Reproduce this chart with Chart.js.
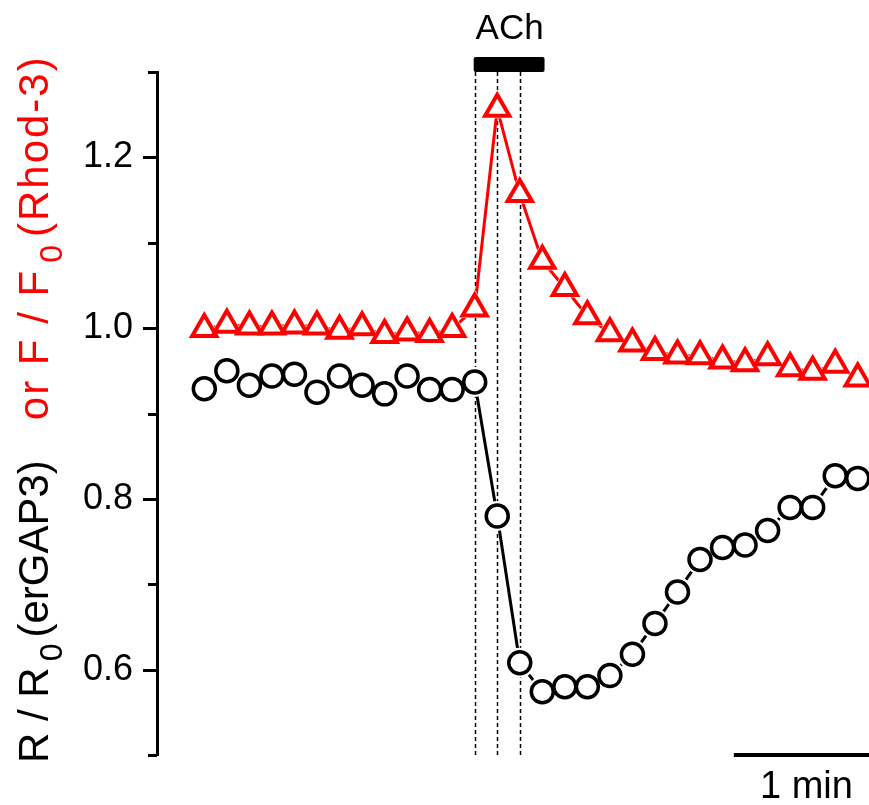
<!DOCTYPE html>
<html>
<head>
<meta charset="utf-8">
<script src="https://cdn.jsdelivr.net/npm/chart.js@4.4.1/dist/chart.umd.min.js"></script>
<style>
  html, body { margin: 0; padding: 0; background: #fff; }
</style>
</head>
<body>
<canvas id="c" width="869" height="805"></canvas>
<script>
// tiempo (s), un punto cada 10 s
const times  = [0, 10, 20, 30, 40, 50, 60, 70, 80, 90, 100, 110, 120, 130, 140,
                150, 160, 170, 180, 190, 200, 210, 220, 230, 240, 250, 260, 270, 280, 290];
// R/R0 (erGAP3)
const erGAP3 = [0.929, 0.950, 0.933, 0.944, 0.946, 0.925, 0.944, 0.933, 0.923, 0.944,
                0.928, 0.928, 0.937, 0.780, 0.608, 0.574, 0.580, 0.580, 0.593, 0.618,
                0.654, 0.691, 0.729, 0.743, 0.746, 0.763, 0.790, 0.790, 0.827, 0.824];
// F/F0 (Rhod-3)
const rhod3  = [0.999, 1.004, 1.002, 1.002, 1.003, 1.002, 0.997, 1.001, 0.992, 0.995,
                0.993, 0.999, 1.023, 1.257, 1.157, 1.079, 1.047, 1.014, 0.994, 0.982,
                0.972, 0.968, 0.967, 0.962, 0.959, 0.966, 0.953, 0.949, 0.957, 0.941];
const majorTicks = [0.6, 0.8, 1.0, 1.2];
const minorTicks = [0.5, 0.7, 0.9, 1.1, 1.3];
const markLines  = [120, 130, 140];   // líneas punteadas
const achRange   = [120, 151];        // barra ACh
const scaleBar   = [235, 295];        // 1 min

const FONT = "'Liberation Sans', Arial, sans-serif";
const pts = (ys) => times.map((t, i) => ({ x: t, y: ys[i] }));

const decor = {
  id: "decor",
  beforeDatasetsDraw(chart) {
    const { ctx, chartArea, scales: { x } } = chart;
    ctx.save();
    // líneas punteadas verticales
    ctx.strokeStyle = "#000";
    ctx.lineWidth = 1.5;
    ctx.setLineDash([4, 3]);
    markLines.forEach(t => {
      const px = Math.round(x.getPixelForValue(t)) + 0.5;
      ctx.beginPath();
      ctx.moveTo(px, 72);
      ctx.lineTo(px, chartArea.bottom);
      ctx.stroke();
    });
    ctx.setLineDash([]);
    // barra ACh
    const x0 = x.getPixelForValue(achRange[0]), x1 = x.getPixelForValue(achRange[1]);
    ctx.fillStyle = "#000";
    ctx.beginPath();
    ctx.roundRect(x0 - 1, 57, x1 - x0 + 1, 15, 2);
    ctx.fill();
    ctx.font = "35px " + FONT;
    ctx.textAlign = "center";
    ctx.textBaseline = "alphabetic";
    ctx.fillText("ACh", (x0 + x1) / 2, 39);
    ctx.restore();
  },
  afterDraw(chart) {
    const { ctx, chartArea, scales: { x, y } } = chart;
    ctx.save();
    // marcas del eje Y
    ctx.strokeStyle = "#000";
    ctx.lineWidth = 3;
    const left = chartArea.left;
    const tick = (v, len) => {
      const py = Math.round(y.getPixelForValue(v)) + 0.5;
      ctx.beginPath();
      ctx.moveTo(left - len, py);
      ctx.lineTo(left, py);
      ctx.stroke();
    };
    majorTicks.forEach(v => tick(v, 14));
    minorTicks.forEach(v => tick(v, 9));

    // barra de escala
    const b0 = x.getPixelForValue(scaleBar[0]), b1 = x.getPixelForValue(scaleBar[1]);
    ctx.lineWidth = 4;
    ctx.beginPath();
    ctx.moveTo(b0, 755);
    ctx.lineTo(b1, 755);
    ctx.stroke();
    ctx.fillStyle = "#000";
    ctx.font = "38px " + FONT;
    ctx.textAlign = "center";
    ctx.fillText("1 min", (b0 + b1) / 2 + 5, 798);

    // título del eje Y (dos colores, subíndices)
    const big = "42px " + FONT, sub = "32px " + FONT;
    const pieces = [
      { t: "R / R", f: big, c: "#000" },
      { t: "0", f: sub, c: "#000", dy: 14, gap: 6 },
      { t: "(erGAP3)", f: big, c: "#000", gap: 6 },
      { t: "or F / F", f: big, c: "#ff0000", gap: 40, ls: 2 },
      { t: "0", f: sub, c: "#ff0000", dy: 14, gap: 6, ls: 2 },
      { t: "(Rhod-3)", f: big, c: "#ff0000", gap: 6, ls: 2 }
    ];
    ctx.translate(48, 763);
    ctx.rotate(-Math.PI / 2);
    ctx.textAlign = "left";
    let pos = 0;
    pieces.forEach(p => {
      pos += p.gap || 0;
      ctx.font = p.f;
      ctx.fillStyle = p.c;
      ctx.letterSpacing = (p.ls || 0) + "px";
      ctx.fillText(p.t, pos, p.dy || 0);
      pos += ctx.measureText(p.t).width;
    });
    ctx.restore();
  }
};

new Chart(document.getElementById("c"), {
  type: "line",
  data: {
    datasets: [
      // líneas
      { data: pts(erGAP3), borderColor: "#000", borderWidth: 3, pointRadius: 0, order: 3, clip: false },
      { data: pts(rhod3), borderColor: "#ff0000", borderWidth: 3, pointRadius: 0, order: 3, clip: false },
      // máscaras blancas (hueco entre línea y marcador)
      { data: pts(erGAP3), showLine: false, pointStyle: "circle", pointRadius: 15,
        pointBackgroundColor: "#fff", pointBorderWidth: 0, order: 2, clip: false },
      { data: pts(rhod3), showLine: false, pointStyle: "triangle", pointRadius: 19,
        pointBackgroundColor: "#fff", pointBorderWidth: 0, order: 2, clip: false },
      // marcadores huecos
      { data: pts(erGAP3), showLine: false, pointStyle: "circle", pointRadius: 11,
        pointBackgroundColor: "rgba(0,0,0,0)", pointBorderColor: "#000", pointBorderWidth: 3.5, order: 1, clip: false },
      { data: pts(rhod3), showLine: false, pointStyle: "triangle", pointRadius: 14,
        pointBackgroundColor: "rgba(0,0,0,0)", pointBorderColor: "#ff0000", pointBorderWidth: 4, order: 1, clip: false }
    ]
  },
  options: {
    responsive: false,
    animation: false,
    layout: { autoPadding: false, padding: { top: 72, bottom: 50, left: 0, right: 0 } },
    scales: {
      x: { type: "linear", min: -21, max: 295, display: false },
      y: {
        min: 0.5, max: 1.3,
        afterFit: (s) => { s.width = 157; },
        border: { display: true, color: "#000", width: 3 },
        grid: { display: true, drawOnChartArea: false, drawTicks: true, tickLength: 14, tickColor: "rgba(0,0,0,0)" },
        ticks: {
          stepSize: 0.1,
          padding: 10,
          color: "#000",
          font: { family: FONT, size: 36 },
          callback: (v) => majorTicks.some(m => Math.abs(m - v) < 1e-6) ? v.toFixed(1) : ""
        }
      }
    },
    plugins: { legend: { display: false }, tooltip: { enabled: false } }
  },
  plugins: [decor]
});
</script>
</body>
</html>
